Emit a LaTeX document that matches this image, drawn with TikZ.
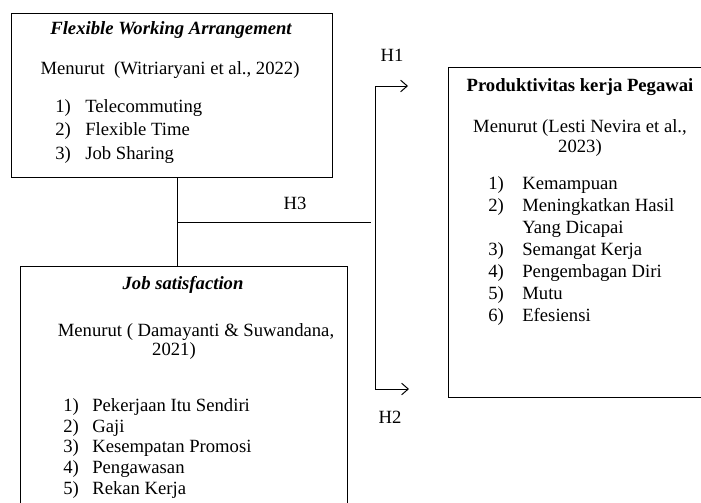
\documentclass[tikz,border=0pt]{standalone}
\usepackage{fontspec}
\setmainfont{Liberation Serif}
\usetikzlibrary{arrows.meta}

\newlength{\itmw}
\newcommand{\itm}[2]{\makebox[\itmw][l]{#1}#2}

\tikzset{
  varbox/.style={draw, line width=0.6pt, anchor=north west, inner sep=0pt, outer sep=0pt},
  txt/.style={inner sep=0pt, font=\fontsize{11.2}{13.5}\selectfont},
  ttl/.style={inner sep=0pt, font=\fontsize{11.2}{13.5}\selectfont\bfseries\itshape},
  lst/.style={inner sep=0pt, anchor=north west, align=left, execute at begin node={\setlength{\itmw}{#1}}},
  link/.style={line width=0.6pt},
}

\begin{document}
\begin{tikzpicture}[x=0.6pt, y=-0.6pt, >={Straight Barb[length=4pt,width=7pt]}]
\useasboundingbox (0,0) rectangle (701,502);
\clip (0,0) rectangle (701,502);

% the three variables
\node[varbox, minimum width=192.6pt, minimum height=98.4pt] (fwa) at (11,13) {};
\node[varbox, minimum width=196.2pt, minimum height=158.4pt] (js) at (20,266) {};
\node[varbox, minimum width=163.2pt, minimum height=198pt] (prod) at (448,67) {};

% X1
\node[ttl] (fwa-title) at (171,30) {Flexible Working Arrangement};
\node[txt] (fwa-ref) at (170,70) {Menurut\ \ (Witriaryani et al., 2022)};
\node[lst=18pt, font=\fontsize{11.2}{14.1}\selectfont] (fwa-list) at (55,99)
  {\itm{1)}{Telecommuting}\\ \itm{2)}{Flexible Time}\\ \itm{3)}{Job Sharing}};

% X2
\node[ttl] (js-title) at (183,285) {Job satisfaction};
\node[txt] (js-ref) at (196,332) {Menurut ( Damayanti \& Suwandana,};
\node[txt] (js-year) at (174,351) {2021)};
\node[lst=17.4pt, font=\fontsize{11.2}{12.5}\selectfont] (js-list) at (63,398)
  {\itm{1)}{Pekerjaan Itu Sendiri}\\ \itm{2)}{Gaji}\\ \itm{3)}{Kesempatan Promosi}\\
   \itm{4)}{Pengawasan}\\ \itm{5)}{Rekan Kerja}};

% Y
\node[txt, font=\fontsize{11.2}{13.5}\selectfont\bfseries] (prod-title) at (580,87) {Produktivitas kerja Pegawai};
\node[txt, align=center, font=\fontsize{11.2}{12}\selectfont] (prod-ref) at (580,138) {Menurut (Lesti Nevira et al.,\\ 2023)};
\node[lst=20.4pt, font=\fontsize{11.2}{13.2}\selectfont] (prod-list) at (488,176)
  {\itm{1)}{Kemampuan}\\ \itm{2)}{Meningkatkan Hasil}\\ \itm{}{Yang Dicapai}\\ \itm{3)}{Semangat Kerja}\\
   \itm{4)}{Pengembagan Diri}\\ \itm{5)}{Mutu}\\ \itm{6)}{Efesiensi}};

% hypotheses
\coordinate (h3-start) at (177,222);
\coordinate (h3-end) at (371,222);
\coordinate (h1-corner) at (375,86);
\coordinate (h2-corner) at (375,389);
\coordinate (h1-tip) at (408,86);
\coordinate (h2-tip) at (409,389);
\draw[link] (fwa.south -| h3-start) -- (js.north -| h3-start);
\draw[link] (h3-start) -- (h3-end);
\draw[link, <->] (h1-tip) -- (h1-corner) -- (h2-corner) -- (h2-tip);
\node[txt] (h1) at (392,55) {H1};
\node[txt] (h3) at (295,203) {H3};
\node[txt] (h2) at (390,417) {H2};
\end{tikzpicture}
\end{document}
